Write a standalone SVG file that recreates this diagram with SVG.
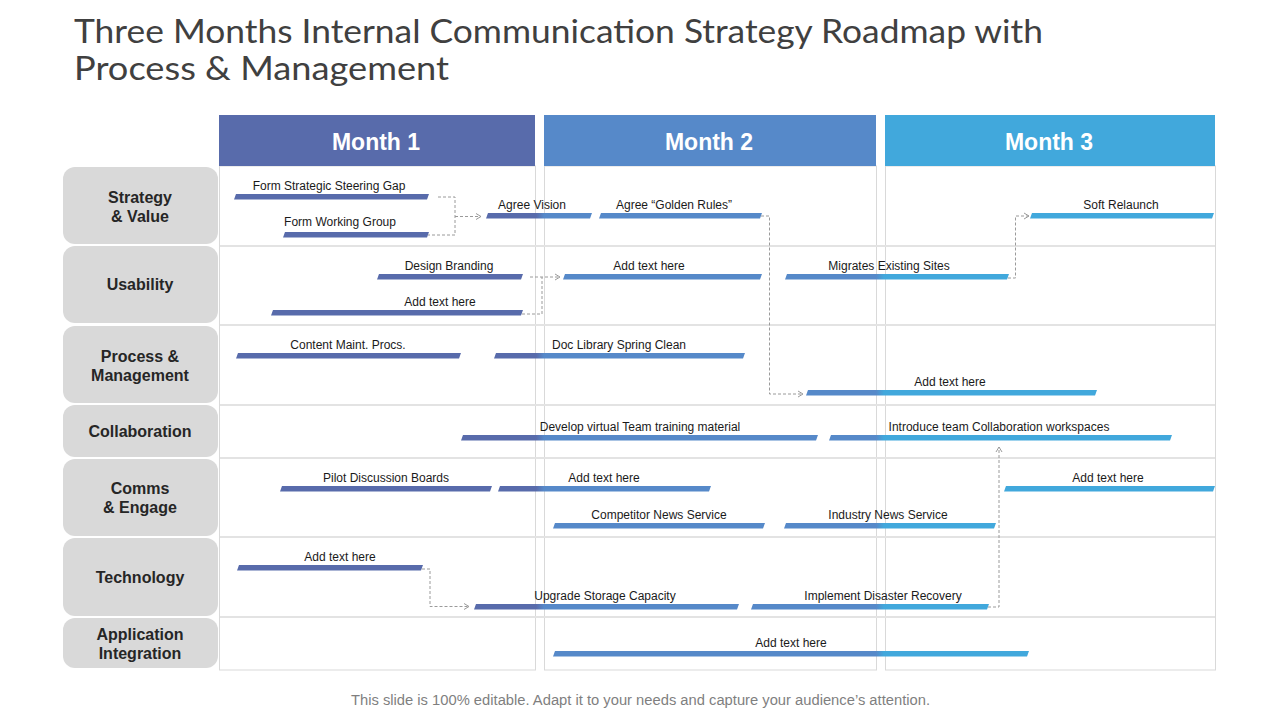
<svg xmlns="http://www.w3.org/2000/svg" width="1280" height="720" viewBox="0 0 1280 720">
<defs>
<style>
.title{font-family:Lato,"Liberation Sans",sans-serif;font-weight:400;font-size:32px;fill:#404040}
.mh{font-family:"Liberation Sans",Arial,sans-serif;font-weight:bold;font-size:23px;fill:#ffffff;text-anchor:middle}
.rl{font-family:"Liberation Sans",Arial,sans-serif;font-weight:bold;font-size:16px;fill:#262626;text-anchor:middle}
.lb{font-family:"Liberation Sans",Arial,sans-serif;font-size:12px;fill:#1a1a1a;text-anchor:middle}
.ft{font-family:"Liberation Sans",Arial,sans-serif;font-size:14px;fill:#7f7f7f}
.rowbox{fill:#d9d9d9}
.col{fill:#ffffff;stroke:#d9d9d9;stroke-width:1}
.sep{stroke:#e3e3e3;stroke-width:2}
.bar{fill:url(#barGrad)}
.cn{fill:none;stroke:#9a9a9a;stroke-width:1;stroke-dasharray:3 2}
</style>
<linearGradient id="barGrad" gradientUnits="userSpaceOnUse" x1="219" y1="0" x2="1216" y2="0">
<stop offset="0" stop-color="#586bab"/>
<stop offset="0.318" stop-color="#586bab"/>
<stop offset="0.326" stop-color="#5689c9"/>
<stop offset="0.659" stop-color="#5689c9"/>
<stop offset="0.667" stop-color="#41a8dc"/>
<stop offset="1" stop-color="#41a8dc"/>
</linearGradient>
<marker id="arr" markerUnits="userSpaceOnUse" markerWidth="8" markerHeight="8" refX="6" refY="4" orient="auto">
<path d="M1,1 L6,4 L1,7" fill="none" stroke="#9a9a9a" stroke-width="1"/>
</marker>
</defs>
<rect x="0" y="0" width="1280" height="720" fill="#ffffff"/>

<g id="title">
<text class="title" x="74" y="43" textLength="969" lengthAdjust="spacingAndGlyphs">Three Months Internal Communication Strategy Roadmap with</text>
<text class="title" x="74" y="80" textLength="375" lengthAdjust="spacingAndGlyphs">Process &amp; Management</text>
</g>

<g id="grid">
<rect class="col" x="219.5" y="166" width="316" height="504"/>
<rect class="col" x="544.5" y="166" width="332" height="504"/>
<rect class="col" x="885.5" y="166" width="330" height="504"/>
<line class="sep" x1="220" y1="246" x2="1215" y2="246"/>
<line class="sep" x1="220" y1="325" x2="1215" y2="325"/>
<line class="sep" x1="220" y1="405" x2="1215" y2="405"/>
<line class="sep" x1="220" y1="458" x2="1215" y2="458"/>
<line class="sep" x1="220" y1="537" x2="1215" y2="537"/>
<line class="sep" x1="220" y1="617" x2="1215" y2="617"/>
</g>

<g id="month1"><rect x="219" y="115" width="316" height="51" fill="#586bab"/><text class="mh" x="376" y="150">Month 1</text></g>
<g id="month2"><rect x="544" y="115" width="332" height="51" fill="#5689c9"/><text class="mh" x="709" y="150">Month 2</text></g>
<g id="month3"><rect x="885" y="115" width="330" height="51" fill="#41a8dc"/><text class="mh" x="1049" y="150">Month 3</text></g>

<g id="row-strategy"><rect class="rowbox" x="63" y="167" width="155" height="77" rx="12"/><text class="rl" x="140" y="203">Strategy</text><text class="rl" x="140" y="222">&amp; Value</text></g>
<g id="row-usability"><rect class="rowbox" x="63" y="246" width="155" height="77" rx="12"/><text class="rl" x="140" y="290">Usability</text></g>
<g id="row-process"><rect class="rowbox" x="63" y="326" width="155" height="77" rx="12"/><text class="rl" x="140" y="362">Process &amp;</text><text class="rl" x="140" y="381">Management</text></g>
<g id="row-collab"><rect class="rowbox" x="63" y="405" width="155" height="52" rx="12"/><text class="rl" x="140" y="437">Collaboration</text></g>
<g id="row-comms"><rect class="rowbox" x="63" y="459" width="155" height="77" rx="12"/><text class="rl" x="140" y="494">Comms</text><text class="rl" x="140" y="513">&amp; Engage</text></g>
<g id="row-tech"><rect class="rowbox" x="63" y="538" width="155" height="78" rx="12"/><text class="rl" x="140" y="583">Technology</text></g>
<g id="row-app"><rect class="rowbox" x="63" y="618" width="155" height="50" rx="12"/><text class="rl" x="140" y="640">Application</text><text class="rl" x="140" y="659">Integration</text></g>

<g id="connectors">
<path class="cn" d="M438,197 H455 V235 H428"/>
<path class="cn" d="M455,216.5 H481" marker-end="url(#arr)"/>
<path class="cn" d="M530,277 H560" marker-end="url(#arr)"/>
<path class="cn" d="M522,314 H542 V277"/>
<path class="cn" d="M761,216 H769.5 V394 H803" marker-end="url(#arr)"/>
<path class="cn" d="M1008,278 H1015.5 V216 H1029" marker-end="url(#arr)"/>
<path class="cn" d="M422,569 H430 V606.5 H469" marker-end="url(#arr)"/>
<path class="cn" d="M988,607 H999 V447" marker-end="url(#arr)"/>
</g>

<g id="task1"><path class="bar" d="M236,194 H429 L427,199.5 H234 Z"/><text class="lb" x="329" y="190">Form Strategic Steering Gap</text></g>
<g id="task2"><path class="bar" d="M285,232 H429 L427,237.5 H283 Z"/><text class="lb" x="340" y="226">Form Working Group</text></g>
<g id="task3"><path class="bar" d="M488,213 H592 L590,218.5 H486 Z"/><text class="lb" x="532" y="209">Agree Vision</text></g>
<g id="task4"><path class="bar" d="M601,213 H762 L760,218.5 H599 Z"/><text class="lb" x="674" y="209">Agree “Golden Rules”</text></g>
<g id="task5"><path class="bar" d="M1032,213 H1214 L1212,218.5 H1030 Z"/><text class="lb" x="1121" y="209">Soft Relaunch</text></g>

<g id="task6"><path class="bar" d="M379,274 H523 L521,279.5 H377 Z"/><text class="lb" x="449" y="270">Design Branding</text></g>
<g id="task7"><path class="bar" d="M273,310 H523 L521,315.5 H271 Z"/><text class="lb" x="440" y="306">Add text here</text></g>
<g id="task8"><path class="bar" d="M565,274 H762 L760,279.5 H563 Z"/><text class="lb" x="649" y="270">Add text here</text></g>
<g id="task9"><path class="bar" d="M787,274 H1009 L1007,279.5 H785 Z"/><text class="lb" x="889" y="270">Migrates Existing Sites</text></g>

<g id="task10"><path class="bar" d="M238,353 H461 L459,358.5 H236 Z"/><text class="lb" x="348" y="349">Content Maint. Procs.</text></g>
<g id="task11"><path class="bar" d="M496,353 H745 L743,358.5 H494 Z"/><text class="lb" x="619" y="349">Doc Library Spring Clean</text></g>
<g id="task12"><path class="bar" d="M808,390 H1097 L1095,395.5 H806 Z"/><text class="lb" x="950" y="386">Add text here</text></g>

<g id="task13"><path class="bar" d="M463,435 H818 L816,440.5 H461 Z"/><text class="lb" x="640" y="431">Develop virtual Team training material</text></g>
<g id="task14"><path class="bar" d="M831,435 H1172 L1170,440.5 H829 Z"/><text class="lb" x="999" y="431">Introduce team Collaboration workspaces</text></g>

<g id="task15"><path class="bar" d="M282,486 H492 L490,491.5 H280 Z"/><text class="lb" x="386" y="482">Pilot Discussion Boards</text></g>
<g id="task16"><path class="bar" d="M500,486 H711 L709,491.5 H498 Z"/><text class="lb" x="604" y="482">Add text here</text></g>
<g id="task17"><path class="bar" d="M1006,486 H1215 L1213,491.5 H1004 Z"/><text class="lb" x="1108" y="482">Add text here</text></g>
<g id="task18"><path class="bar" d="M555,523 H765 L763,528.5 H553 Z"/><text class="lb" x="659" y="519">Competitor News Service</text></g>
<g id="task19"><path class="bar" d="M786,523 H996 L994,528.5 H784 Z"/><text class="lb" x="888" y="519">Industry News Service</text></g>

<g id="task20"><path class="bar" d="M239,565 H423 L421,570.5 H237 Z"/><text class="lb" x="340" y="561">Add text here</text></g>
<g id="task21"><path class="bar" d="M476,604 H739 L737,609.5 H474 Z"/><text class="lb" x="605" y="600">Upgrade Storage Capacity</text></g>
<g id="task22"><path class="bar" d="M753,604 H989 L987,609.5 H751 Z"/><text class="lb" x="883" y="600">Implement Disaster Recovery</text></g>

<g id="task23"><path class="bar" d="M555,651 H1029 L1027,656.5 H553 Z"/><text class="lb" x="791" y="647">Add text here</text></g>

<g id="footer"><text class="ft" x="351" y="705" textLength="579" lengthAdjust="spacingAndGlyphs">This slide is 100% editable. Adapt it to your needs and capture your audience’s attention.</text></g>
</svg>
